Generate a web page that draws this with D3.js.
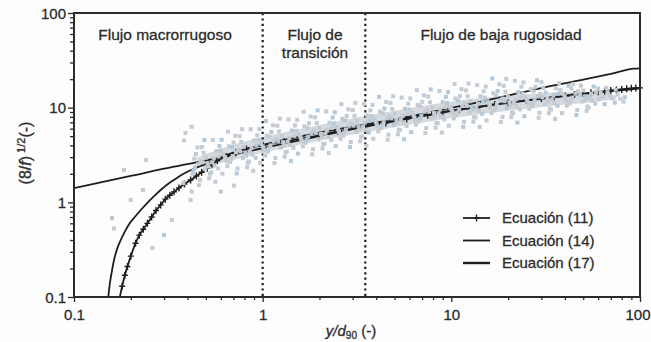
<!DOCTYPE html>
<html>
<head>
<meta charset="utf-8">
<script src="https://cdn.jsdelivr.net/npm/d3@7"></script>
<style>
  html, body { margin: 0; padding: 0; background: #fdfdfe; }
  svg { display: block; font-family: Arial, "Liberation Sans", Helvetica, sans-serif; }
  text { stroke: #2b2b2b; stroke-width: 0.3px; }
</style>
</head>
<body>
<div id="chart"></div>
<script>
// Ecuación (11): log-law curve with + markers
const eq11 = [[0.175,0.1],[0.18,0.13],[0.186,0.17],[0.192,0.21],[0.2,0.27],[0.212,0.37],[0.222,0.45],[0.233,0.52],[0.245,0.6],[0.258,0.7],[0.272,0.82],[0.288,0.94],[0.305,1.08],[0.322,1.19],[0.339,1.29],[0.36,1.42],[0.385,1.56],[0.415,1.72],[0.445,1.9],[0.475,2.08],[0.508,2.29],[0.54,2.5],[0.575,2.75],[0.64,3.05],[0.72,3.35],[0.82,3.65],[1,4.0],[1.3,4.4],[1.6,4.7],[2.0,5.1],[2.5,5.6],[3.5,6.3],[4.5,6.9],[5.8,7.6],[7.5,8.3],[9,8.9],[11,9.5],[14,10.2],[17,10.8],[20,11.2],[25,11.9],[30,12.5],[35,13.0],[40,13.4],[45,13.8],[50,14.1],[55,14.4],[60,14.7],[65,14.9],[70,15.2],[75,15.4],[80,15.6],[85,15.8],[90,16.0],[95,16.1],[100,16.2]]

// Ecuación (14): steep curve, no markers
const eq14 = [[0.152,0.1],[0.155,0.14],[0.159,0.19],[0.163,0.246],[0.17,0.33],[0.177,0.4],[0.184,0.47],[0.195,0.58],[0.21,0.7],[0.226,0.83],[0.25,1.03],[0.27,1.2],[0.288,1.35],[0.32,1.6],[0.35,1.8],[0.383,2.02],[0.44,2.3],[0.508,2.58],[0.575,2.92],[0.7,3.35],[0.85,3.75],[1,4.05],[1.5,4.85],[2,5.45],[3,6.3],[5,7.5],[8,8.7],[12,9.8],[20,11.3],[30,12.4],[50,13.9],[70,14.9],[100,16.0]]

// Ecuación (17): power law
const eq17 = [[0.1,1.41],[0.2,1.9],[0.339,2.38],[0.552,2.87],[1,3.74],[2,5.0],[3.56,6.4],[7,8.6],[14.2,11.5],[29.5,16],[50,19.8],[70,22.8],[93,25.8],[100,26.0]]

// dense core of the data cloud: x, lower and upper edge
const coreX  = [0.45, 0.6, 0.8, 1, 1.5, 2, 3.5, 6, 10, 20, 40, 60, 75]
const coreLo = [2.3, 2.6, 3.0, 3.35, 3.95, 4.5, 5.5, 6.6, 7.8, 9.3, 10.8, 11.6, 12.3]
const coreHi = [3.0, 3.7, 4.4, 4.9, 5.8, 6.6, 8.2, 9.9, 11.8, 13.5, 14.8, 14.6, 13.5]

// measured points
const obs = [
[0.159,0.68],[0.163,0.53],[0.2,1.06],[0.24,2.8],[0.184,2.2],[0.26,0.33],[0.3,0.45],[0.33,0.65],[0.415,1.06],[0.42,1.3],[0.383,4.5],[0.42,6.3],[0.6,1.3],[0.705,1.5],[0.232,1.35],[0.39,5.4],[0.38,1.6],
[0.425,2.01],[0.438,2.33],[0.456,2.55],[0.434,2.89],[0.465,1.72],[0.443,3.23],[0.469,2.70],[0.429,2.16],[0.451,3.80],[0.46,1.52],
[0.516,2.39],[0.481,2.65],[0.501,2.97],[0.526,2.01],[0.486,3.34],[0.511,2.57],[0.476,3.84],[0.496,2.25],[0.521,1.80],[0.491,4.56],
[0.556,2.45],[0.584,3.05],[0.540,2.65],[0.568,3.48],[0.534,2.08],[0.590,3.93],[0.551,2.91],[0.579,2.28],[0.545,4.56],[0.562,1.65],
[0.637,2.87],[0.599,3.51],[0.650,2.41],[0.618,3.20],[0.663,3.90],[0.612,2.01],[0.631,3.02],[0.606,4.58],[0.644,2.71],[0.656,5.58],
[0.673,2.67],[0.694,3.09],[0.722,3.38],[0.687,3.84],[0.736,2.28],[0.701,4.29],[0.743,3.58],[0.680,2.86],[0.715,5.04],[0.729,2.02],
[0.818,3.11],[0.762,3.45],[0.794,3.86],[0.834,2.62],[0.770,4.35],[0.810,3.35],[0.754,5.00],[0.786,2.93],[0.826,2.35],[0.778,5.93],
[0.882,3.18],[0.927,3.96],[0.855,3.44],[0.900,4.51],[0.846,2.70],[0.936,5.11],[0.873,3.77],[0.918,2.96],[0.864,5.92],[0.891,2.15],
[1.01,3.71],[0.95,4.54],[1.03,3.12],[0.98,4.15],[1.05,5.06],[0.97,2.61],[1.00,3.91],[0.96,5.93],[1.02,3.52],[1.04,7.23],
[1.066,3.44],[1.10,3.99],[1.144,4.37],[1.088,4.96],[1.167,2.94],[1.111,5.54],[1.178,4.62],[1.077,3.70],[1.133,6.51],[1.156,2.60],
[1.297,4.01],[1.209,4.45],[1.259,4.98],[1.322,3.38],[1.221,5.61],[1.284,4.32],[1.196,6.45],[1.246,3.78],[1.309,3.03],[1.234,7.65],
[1.399,4.04],[1.47,5.03],[1.356,4.37],[1.427,5.73],[1.342,3.43],[1.484,6.49],[1.385,4.79],[1.455,3.76],[1.371,7.52],[1.413,2.73],
[1.601,4.65],[1.506,5.69],[1.633,3.91],[1.553,5.20],[1.664,6.34],[1.537,3.27],[1.585,4.90],[1.522,7.43],[1.617,4.41],[1.648,9.06],
[1.689,4.26],[1.742,4.94],[1.814,5.41],[1.725,6.14],[1.849,3.64],[1.760,6.86],[1.867,5.72],[1.707,4.58],[1.796,8.06],[1.831,3.22],
[2.055,4.91],[1.915,5.45],[1.995,6.10],[2.095,4.14],[1.935,6.87],[2.035,5.29],[1.895,7.90],[1.975,4.63],[2.075,3.71],[1.955,9.37],
[2.217,4.90],[2.329,6.10],[2.149,5.30],[2.261,6.95],[2.127,4.16],[2.351,7.87],[2.194,5.81],[2.306,4.56],[2.172,9.12],[2.239,3.31],
[2.537,5.59],[2.386,6.84],[2.587,4.70],[2.462,6.25],[2.638,7.62],[2.437,3.93],[2.512,5.89],[2.412,8.93],[2.562,5.30],[2.612,10.9],
[2.677,5.08],[2.762,5.89],[2.874,6.45],[2.733,7.32],[2.931,4.34],[2.790,8.18],[2.959,6.82],[2.705,5.46],[2.846,9.61],[2.903,3.84],
[3.257,5.85],[3.036,6.50],[3.162,7.28],[3.320,4.94],[3.067,8.19],[3.225,6.31],[3.004,9.43],[3.130,5.53],[3.288,4.42],[3.099,11.2],
[3.513,5.85],[3.690,7.28],[3.406,6.32],[3.583,8.30],[3.371,4.96],[3.725,9.38],[3.477,6.94],[3.654,5.44],[3.442,10.9],[3.548,3.94],
[4.021,6.67],[3.782,8.17],[4.100,5.61],[3.901,7.46],[4.180,9.09],[3.862,4.69],[3.981,7.03],[3.822,10.7],[4.061,6.32],[4.140,13.0],
[4.244,6.07],[4.378,7.03],[4.556,7.70],[4.333,8.73],[4.646,5.18],[4.422,9.77],[4.690,8.14],[4.288,6.51],[4.512,11.5],[4.601,4.59],
[5.162,6.93],[4.812,7.70],[5.012,8.62],[5.263,5.85],[4.862,9.70],[5.112,7.47],[4.761,11.2],[4.962,6.55],[5.212,5.24],[4.912,13.2],
[5.567,6.88],[5.848,8.56],[5.398,7.44],[5.679,9.76],[5.342,5.84],[5.904,11.0],[5.511,8.16],[5.792,6.40],[5.454,12.8],[5.623,4.64],
[6.373,7.85],[5.995,9.60],[6.499,6.60],[6.184,8.77],[6.626,10.7],[6.121,5.51],[6.31,8.27],[6.058,12.5],[6.436,7.43],[6.562,15.3],
[6.725,7.13],[6.937,8.27],[7.221,9.05],[6.867,10.3],[7.362,6.09],[7.008,11.5],[7.433,9.57],[6.796,7.66],[7.150,13.5],[7.291,5.39],
[8.181,8.15],[7.625,9.05],[7.943,10.1],[8.340,6.88],[7.705,11.4],[8.102,8.78],[7.546,13.1],[7.863,7.69],[8.261,6.15],[7.784,15.6],
[8.824,8.08],[9.270,10.1],[8.556,8.74],[9.002,11.5],[8.467,6.86],[9.359,13.0],[8.735,9.59],[9.180,7.52],[8.646,15.0],[8.913,5.45],
[10.1,9.17],[9.5,11.2],[10.3,7.70],[9.8,10.2],[10.5,12.5],[9.7,6.44],[10.0,9.65],[9.6,14.6],[10.2,8.68],[10.4,17.8],
[10.66,8.28],[11.0,9.60],[11.44,10.5],[10.88,11.9],[11.67,7.07],[11.11,13.3],[11.78,11.1],[10.77,8.89],[11.33,15.7],[11.56,6.26],
[12.97,9.41],[12.09,10.45],[12.59,11.7],[13.22,7.94],[12.21,13.2],[12.84,10.1],[11.96,15.2],[12.46,8.88],[13.09,7.11],[12.34,18.0],
[13.99,9.29],[14.70,11.6],[13.56,10.0],[14.27,13.2],[13.42,7.88],[14.84,14.9],[13.85,11.0],[14.55,8.64],[13.71,17.3],[14.13,6.26],
[16.01,10.4],[15.06,12.8],[16.33,8.77],[15.53,11.7],[16.64,14.2],[15.37,7.33],[15.85,11.0],[15.22,16.7],[16.17,9.88],[16.48,20.3],
[16.89,9.35],[17.42,10.8],[18.14,11.9],[17.25,13.5],[18.67,7.98],[17.60,15.0],[18.67,12.5],[17.07,10.0],[17.96,17.7],[18.31,7.07],
[20.55,10.5],[19.15,11.7],[19.95,13.1],[20.95,8.89],[19.35,14.7],[20.35,11.3],[18.95,17.0],[19.75,9.95],[20.75,7.96],[19.55,20.1],
[22.17,10.3],[23.29,12.8],[21.49,11.2],[22.61,14.6],[21.27,8.76],[23.51,16.6],[21.94,12.2],[23.06,9.60],[21.72,19.2],[22.39,6.96],
[25.37,11.6],[23.86,14.1],[25.87,9.72],[24.62,12.9],[26.38,15.7],[24.37,8.12],[25.12,12.2],[24.12,18.5],[25.62,10.9],
[26.77,10.3],[27.62,12.0],[28.74,13.1],[27.33,14.9],[29.31,8.82],[27.90,16.6],[29.59,13.9],[27.05,11.1],[28.46,19.5],[29.03,7.81],
[32.57,11.6],[30.36,12.85],[31.62,14.4],[33.20,9.77],[30.67,16.2],[32.25,12.5],[30.04,18.6],[31.30,10.9],[32.88,8.74],
[35.13,11.3],[36.90,14.0],[34.06,12.2],[35.83,16.0],[33.71,9.56],[37.25,18.1],[34.77,13.4],[36.54,10.5],[35.48,7.60],
[40.21,12.5],[37.82,15.3],[41.0,10.5],[39.01,14.0],[41.80,17.0],[38.62,8.78],[39.81,13.2],[40.61,11.8],
[42.44,11.1],[43.78,12.8],[45.56,14.0],[43.33,15.9],[46.46,9.45],[44.22,17.8],[46.90,14.9],[42.88,11.9],[46.01,8.37],
[51.62,12.2],[48.12,13.6],[50.12,15.2],[52.63,10.3],[48.62,17.1],[51.12,13.2],[49.62,11.6],[52.13,9.25],
[55.67,11.8],[58.48,14.7],[53.98,12.7],[56.79,16.7],[53.42,10.0],[55.11,14.0],[57.92,11.0],
[63.73,13.0],[59.95,15.9],[64.99,10.9],[61.84,14.5],[66.26,16.2],[60.58,12.3],
[71.5,12.5],[67.3,14.6],[73.6,11.3],[69.4,13.4],[74.3,15.5],
[78.6,12.4],[81.8,11.6],[76.2,13.8],[83.0,12.9]
]

const xTicks = [0.1, 1, 10, 100]
const yTicks = [0.1, 1, 10, 100]
const zoneBounds = [1, 3.5]
const legendLabels = ['Ecuación (11)', 'Ecuación (14)', 'Ecuación (17)']

const W = 651, H = 342
const margin = { left: 74, right: 11, top: 13, bottom: 45 }
const ink = '#2b2b2b'

const svg = d3.select('#chart').append('svg')
  .attr('width', W)
  .attr('height', H)

const x = d3.scaleLog().domain([0.1, 100]).range([margin.left, W - margin.right])
const y = d3.scaleLog().domain([0.1, 100]).range([H - margin.bottom, margin.top])

// minor tick values 2..9 per decade
const minors = []
for (let e = -1; e < 2; e++) {
  for (let k = 2; k <= 9; k++) minors.push(k * Math.pow(10, e))
}

const fmt = d => (d < 1 ? String(d) : d3.format('d')(d))

// axes
const gx = svg.append('g').attr('transform', `translate(0,${y(0.1)})`)
gx.call(d3.axisBottom(x).tickValues(minors).tickSize(3).tickFormat(''))
gx.call(g => g.selectAll('.domain').remove())
const gx2 = svg.append('g').attr('transform', `translate(0,${y(0.1)})`)
  .call(d3.axisBottom(x).tickValues(xTicks).tickSize(5).tickPadding(7).tickFormat(fmt))
gx2.select('.domain').remove()
// last label sits against the right edge
gx2.selectAll('.tick text').filter(d => d === 100).attr('text-anchor', 'end').attr('x', 10)

const gy = svg.append('g').attr('transform', `translate(${x(0.1)},0)`)
gy.call(d3.axisLeft(y).tickValues(minors).tickSize(4).tickFormat(''))
gy.call(g => g.selectAll('.domain').remove())
const gy2 = svg.append('g').attr('transform', `translate(${x(0.1)},0)`)
  .call(d3.axisLeft(y).tickValues(yTicks).tickSize(6).tickPadding(2).tickFormat(fmt))
gy2.select('.domain').remove()

svg.selectAll('.tick line').attr('stroke', ink).attr('stroke-width', 1.3)
svg.selectAll('.tick text')
  .attr('fill', ink)
  .style('font-size', '15px')
  .style('font-family', 'Arial, "Liberation Sans", sans-serif')
gy2.selectAll('.tick text').attr('dy', '0.35em')

// dense core of the cloud
const core = coreX.map((v, i) => [v, coreLo[i], coreHi[i]])
svg.append('path')
  .datum(core)
  .attr('d', d3.area()
    .x(d => x(d[0]))
    .y0(d => y(d[1]))
    .y1(d => y(d[2]))
    .curve(d3.curveBasis))
  .attr('fill', '#d5dade')

// zone boundaries
svg.append('g').selectAll('line')
  .data(zoneBounds)
  .join('line')
  .attr('x1', d => x(d)).attr('x2', d => x(d))
  .attr('y1', y(100)).attr('y2', y(0.1))
  .attr('stroke', '#1e1e1e')
  .attr('stroke-width', 2.2)
  .attr('stroke-dasharray', '2.2,3.2')

// curves
const line = d3.line()
  .x(d => x(d[0]))
  .y(d => y(d[1]))
  .curve(d3.curveMonotoneX)

const curves = svg.append('g').attr('fill', 'none').attr('stroke', '#1e1e1e')
curves.append('path').datum(eq17).attr('d', line).attr('stroke-width', 1.8)
curves.append('path').datum(eq14).attr('d', line).attr('stroke-width', 1.8)
curves.append('path').datum(eq11).attr('d', line).attr('stroke-width', 1.8)

const cross = 'M0,-3.5V3.5M-3,0H3'
svg.append('g').selectAll('path')
  .data(eq11.filter(d => d[1] > 0.1))
  .join('path')
  .attr('transform', d => `translate(${x(d[0])},${y(d[1])})`)
  .attr('d', cross)
  .attr('stroke', '#1e1e1e')
  .attr('stroke-width', 1.4)

// observations on top of the curves
svg.append('g').selectAll('rect')
  .data(obs)
  .join('rect')
  .attr('x', d => x(d[0]) - 2)
  .attr('y', d => y(d[1]) - 2)
  .attr('width', 4)
  .attr('height', 4)
  .attr('fill', (d, i) => (i % 6 === 0 ? '#b3c8d8' : '#c4cbd2'))

// frame
svg.append('rect')
  .attr('x', x(0.1)).attr('y', y(100))
  .attr('width', x(100) - x(0.1))
  .attr('height', y(0.1) - y(100))
  .attr('fill', 'none')
  .attr('stroke', ink)
  .attr('stroke-width', 2)

// zone labels
const zt = svg.append('g')
  .attr('fill', ink)
  .style('font-size', '15.5px')
  .attr('text-anchor', 'middle')
zt.append('text').attr('x', 165).attr('y', 40).text('Flujo macrorrugoso')
zt.append('text').attr('x', 315).attr('y', 40).text('Flujo de')
zt.append('text').attr('x', 315).attr('y', 58).text('transición')
zt.append('text').attr('x', 501).attr('y', 40).text('Flujo de baja rugosidad')

// legend
const lg = svg.append('g').attr('transform', 'translate(463,218)')
const rows = lg.selectAll('g')
  .data(legendLabels)
  .join('g')
  .attr('transform', (d, i) => `translate(0,${i * 22.5})`)
rows.append('line')
  .attr('x1', 0).attr('x2', 27)
  .attr('stroke', '#1e1e1e')
  .attr('stroke-width', (d, i) => (i === 2 ? 2.4 : 1.8))
rows.filter((d, i) => i === 0).append('path')
  .attr('d', cross)
  .attr('transform', 'translate(13.5,0)')
  .attr('stroke', '#1e1e1e')
  .attr('stroke-width', 1.4)
rows.append('text')
  .attr('x', 39)
  .attr('dy', '0.36em')
  .attr('fill', ink)
  .style('font-size', '15px')
  .text(d => d)

// axis titles
const xt = svg.append('text')
  .attr('x', 351).attr('y', 336)
  .attr('text-anchor', 'middle')
  .attr('fill', ink)
  .style('font-size', '15px')
xt.append('tspan').style('font-style', 'italic').text('y/d')
xt.append('tspan').attr('dy', 3).style('font-size', '10px').text('90')
xt.append('tspan').attr('dy', -3).text(' (-)')

const yt = svg.append('text')
  .attr('transform', 'translate(31,153) rotate(-90)')
  .attr('text-anchor', 'middle')
  .attr('fill', ink)
  .style('font-size', '16px')
yt.append('tspan').text('(8/')
yt.append('tspan').style('font-style', 'italic').text('f')
yt.append('tspan').text(')')
yt.append('tspan').attr('dy', -6).style('font-size', '11px').text(' 1/2')
yt.append('tspan').attr('dy', 6).text('(-)')
</script>
</body>
</html>
